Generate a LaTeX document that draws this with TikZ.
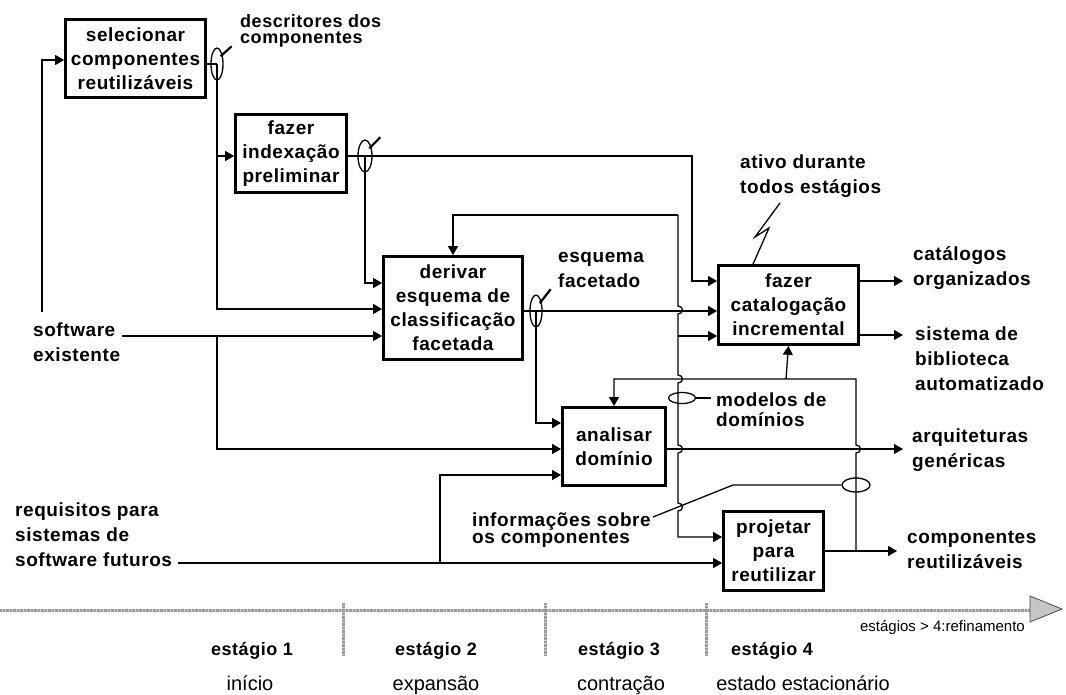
\documentclass[tikz,border=0pt]{standalone}
\usepackage{fontspec}
\setmainfont{Liberation Sans}
\newfontfamily\spacedsans{Liberation Sans}[LetterSpace=3]
\usetikzlibrary{arrows.meta,shapes.geometric}

\begin{document}
\begin{tikzpicture}[x=1pt,y=-1pt,
  box/.style={draw, line width=2.8pt, align=center, inner sep=0pt,
    font=\spacedsans\bfseries\fontsize{19}{24}\selectfont},
  wire/.style={line width=1.3pt},
  flow/.style={wire, -{Triangle[length=9pt,width=10pt]}},
  lbl/.style={align=left, inner sep=0pt, anchor=west,
    font=\spacedsans\bfseries\fontsize{19}{25}\selectfont},
  bundle/.style={draw, ellipse, line width=1.3pt, inner sep=0pt},
  leader/.style={line width=2.2pt},
  stagehead/.style={inner sep=0pt, anchor=base, font=\spacedsans\bfseries\fontsize{18}{22}\selectfont},
  stagename/.style={inner sep=0pt, anchor=base, font=\fontsize{20}{24}\selectfont},
  tline/.style={line width=3pt, gray!35},
  tdots/.style={line width=3pt, gray!80, dash pattern=on 0.7pt off 0.7pt},
]
\useasboundingbox[fill=white] (0,0) rectangle (1066,694);

% ---------- activity boxes ----------
\node[box, minimum width=140, minimum height=78] (sel)  at (135.5,58.5) {selecionar\\componentes\\reutilizáveis};
\node[box, minimum width=111, minimum height=78] (idx)  at (291,153.5)  {fazer\\indexação\\preliminar};
\node[box, minimum width=139, minimum height=103] (der) at (453,308)    {derivar\\esquema de\\classificação\\facetada};
\node[box, minimum width=140, minimum height=79] (cat)  at (788.5,305)  {fazer\\catalogação\\incremental};
\node[box, minimum width=103, minimum height=78] (ana)  at (614,446.5)  {analisar\\domínio};
\node[box, minimum width=100, minimum height=79] (proj) at (773.5,551)  {projetar\\para\\reutilizar};

% ---------- bundle marks ----------
\node[bundle, minimum width=12, minimum height=32] (e1) at (217,64)  {};
\node[bundle, minimum width=14, minimum height=32] (e2) at (365,156) {};
\node[bundle, minimum width=12, minimum height=32] (e3) at (536,311) {};
\node[bundle, minimum width=27, minimum height=11] (e4) at (682,398) {};
\node[bundle, minimum width=28, minimum height=14] (e5) at (856,485) {};

% ---------- labels ----------
\node[lbl] (swex) at (33,342) {software\\existente};
\node[lbl] (req)  at (15,535) {requisitos para\\sistemas de\\software futuros};
\node[lbl, font=\spacedsans\bfseries\fontsize{18}{16}\selectfont] (desc) at (240,31) {descritores dos\\componentes};
\node[lbl] (esq)  at (558,270) {esquema\\facetado};
\node[lbl] (ativo) at (740,176) {ativo durante\\todos estágios};
\node[lbl, font=\spacedsans\bfseries\fontsize{19}{20}\selectfont] (mod) at (716,410) {modelos de\\domínios};
\node[lbl, font=\spacedsans\bfseries\fontsize{19}{17}\selectfont] (info) at (472,530) {informações sobre\\os componentes};
\node[lbl] (catl) at (913,268) {catálogos\\organizados};
\node[lbl] (bib)  at (915,359) {sistema de\\biblioteca\\automatizado};
\node[lbl] (arq)  at (912,450) {arquiteturas\\genéricas};
\node[lbl] (comp) at (907,550) {componentes\\reutilizáveis};

% ---------- junction and end points ----------
\coordinate (swin)  at (122,336);
\coordinate (swtop) at (42,312);
\coordinate (swup)  at (42,60);
\coordinate (a156)  at (217,156);
\coordinate (a309)  at (217,309);
\coordinate (a336)  at (217,336);
\coordinate (a449)  at (217,449);
\coordinate (b1)    at (692,156);
\coordinate (b2)    at (692,281);
\coordinate (c283)  at (365,283);
\coordinate (d423)  at (536,423);
\coordinate (f1)    at (678,215);
\coordinate (f3)    at (678,336);
\coordinate (f0)    at (678,537);
\coordinate (g1)    at (856,551);
\coordinate (g2)    at (856,379);
\coordinate (g4)    at (786,379);
\coordinate (reqin) at (178,563);
\coordinate (r1)    at (440,563);
\coordinate (r2)    at (440,475);
\coordinate (o1)    at (903,281);
\coordinate (o2)    at (903,335);
\coordinate (o3)    at (903,449);
\coordinate (o4)    at (897,551);
\coordinate (lk1)   at (733,485);
\coordinate (lk2)   at (653,517);
\coordinate (z0)    at (780,203);

% ---------- existing software ----------
\draw[flow] (swin) -- (swin -| der.west);
\draw[flow] (swtop) -- (swup) -- (swup -| sel.west);
\draw[flow] (a336) -- (a449) -- (a449 -| ana.west);

% ---------- component descriptors ----------
\draw[wire] (sel.east |- e1) -- (e1.center);
\draw[flow] (e1.center) -- (a309) -- (a309 -| der.west);
\draw[flow] (a156) -- (a156 -| idx.west);
\draw[leader] (e1.north east) ++(-1,4) -- ++(11,-10);

% ---------- preliminary index ----------
\draw[wire] (idx.east |- e2) -- (e2.center);
\draw[flow] (e2.center) -- (b1) -- (b2) -- (b2 -| cat.west);
\draw[flow] (e2.center) -- (c283) -- (c283 -| der.west);
\draw[leader] (e2.north east) ++(-1,4) -- ++(11,-11);

% ---------- faceted scheme ----------
\draw[flow] (der.east |- e3) -- (e3 -| cat.west);
\draw[flow] (e3.center) -- (d423) -- (d423 -| ana.west);
\draw[leader] (e3.north east) ++(-1,4) -- ++(11,-14);

% ---------- feedback line with hops ----------
\draw[flow] (f1) -- (der.north |- f1) -- (der.north);
\draw[flow] (f1)
  -- (678,306) .. controls (684,306) and (684,314) .. (678,314)
  -- (678,375) .. controls (684,375) and (684,383) .. (678,383)
  -- (678,445) .. controls (684,445) and (684,453) .. (678,453)
  -- (678,503) .. controls (684,503) and (684,511) .. (678,511)
  -- (f0) -- (f0 -| proj.west);
\draw[flow] (f3) -- (f3 -| cat.west);

% ---------- domain models ----------
\draw[wire] (e4.east) -- ++(15,0);

% ---------- reuse design feedback ----------
\draw[flow] (proj.east) -- (o4);
\draw[flow] (g1)
  -- (856,453) .. controls (862,453) and (862,445) .. (856,445)
  -- (g2) -- (g2 -| ana.north) -- (ana.north);
\draw[flow] (g4) -- (cat.south);
\draw[wire] (e5.west) -- (lk1) -- (lk2);

% ---------- requirements ----------
\draw[flow] (reqin) -- (reqin -| proj.west);
\draw[flow] (r1) -- (r2) -- (r2 -| ana.west);

% ---------- outputs ----------
\draw[flow] (cat.east |- o1) -- (o1);
\draw[flow] (cat.east |- o2) -- (o2);
\draw[flow] (ana.east |- o3) -- (o3);

% ---------- always-active mark ----------
\draw[wire] (z0) -- (755,237) -- (769,228) -- (cat.north -| 753,0);

% ---------- stage timeline ----------
\draw[tline] (0,610) -- (1030,610);
\draw[tdots] (0,610) -- (1030,610);
\foreach \sx in {343,545,706} {
  \draw[tline] (\sx,603) -- (\sx,655);
  \draw[tdots] (\sx,603) -- (\sx,655);
}
\filldraw[fill=gray!45, draw=gray!60!black, line width=0.8pt]
  (1030,596) -- (1062,609) -- (1030,622) -- cycle;
\node[inner sep=0pt, anchor=east, font=\fontsize{15}{18}\selectfont] (more) at (1025,628) {estágios > 4:refinamento};

\node[stagehead] (s1) at (252,655) {estágio 1};
\node[stagehead] (s2) at (436,655) {estágio 2};
\node[stagehead] (s3) at (619,655) {estágio 3};
\node[stagehead] (s4) at (772,655) {estágio 4};
\node[stagename] (n1) at (250,690) {início};
\node[stagename] (n2) at (436,690) {expansão};
\node[stagename] (n3) at (621,690) {contração};
\node[stagename] (n4) at (803,690) {estado estacionário};
\end{tikzpicture}
\end{document}
